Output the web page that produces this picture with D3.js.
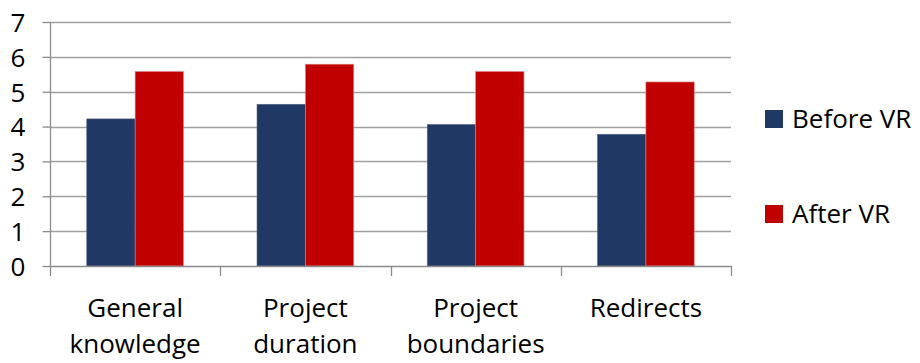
<!DOCTYPE html>
<html>
<head>
<meta charset="utf-8">
<script src="https://cdn.jsdelivr.net/npm/d3@7"></script>
<style>
  html, body { margin: 0; padding: 0; background: #fff; }
  svg { display: block; }
  text { font-family: "Open Sans", "Noto Sans", sans-serif; fill: #000; }
</style>
</head>
<body>
<svg id="chart" width="920" height="363"></svg>
<script>
// Survey scores before and after the VR session
const categories = [["General", "knowledge"], ["Project", "duration"], ["Project", "boundaries"], ["Redirects"]];
const seriesNames = ["Before VR", "After VR"];
const beforeVR = [4.22, 4.64, 4.06, 3.78];
const afterVR = [5.58, 5.79, 5.58, 5.28];
const yTicks = [0, 1, 2, 3, 4, 5, 6, 7];
const colors = ["#203864", "#C00000"];

const svg = d3.select("#chart");
const plot = { left: 50, right: 731, top: 22, bottom: 266 };
const fontSize = 26;

const x = d3.scaleBand()
  .domain(d3.range(categories.length))
  .range([plot.left, plot.right])
  .paddingInner(0).paddingOuter(0);

const y = d3.scaleLinear().domain([0, 7]).range([plot.bottom, plot.top]);

// horizontal gridlines
svg.append("g")
  .selectAll("line")
  .data(yTicks.slice(1))
  .join("line")
  .attr("x1", plot.left).attr("x2", plot.right)
  .attr("y1", d => Math.round(y(d)) + 0.5).attr("y2", d => Math.round(y(d)) + 0.5)
  .attr("stroke", "#a0a0a0").attr("stroke-width", 1.3);

// grouped bars: each bar is 1/3.5 of the category band
const barW = x.bandwidth() / 3.52;
const series = [beforeVR, afterVR];
series.forEach((vals, s) => {
  svg.append("g")
    .selectAll("rect")
    .data(vals)
    .join("rect")
    .attr("x", (d, i) => x(i) + x.bandwidth() / 2 - barW + s * barW)
    .attr("y", d => y(d))
    .attr("width", barW)
    .attr("height", d => y(0) - y(d))
    .attr("fill", colors[s])
    .attr("stroke", s === 0 ? "#5a6a88" : "#e08a8a")
    .attr("stroke-width", 0.6);
});

// y axis
const yAxis = d3.axisLeft(y).tickValues(yTicks).tickSize(8).tickPadding(20).tickFormat(d3.format("d"));
const gy = svg.append("g").attr("transform", `translate(${plot.left + 0.5},0)`).call(yAxis);
gy.select(".domain").attr("stroke", "#8c8c8c").attr("stroke-width", 1.3).attr("d", `M-0,${plot.top}V${plot.bottom}`);
gy.selectAll(".tick line").attr("stroke", "#8c8c8c").attr("stroke-width", 1.3);
gy.selectAll(".tick text").attr("font-size", fontSize).attr("text-anchor", "start").attr("x", -40).attr("dy", "0.36em")
  .style("font-family", '"Open Sans", sans-serif');

// x axis with tick marks at the band boundaries
const gx = svg.append("g");
gx.append("line")
  .attr("x1", plot.left).attr("x2", plot.right + 0.5)
  .attr("y1", plot.bottom + 0.5).attr("y2", plot.bottom + 0.5)
  .attr("stroke", "#8c8c8c").attr("stroke-width", 1.3);
const bounds = d3.range(categories.length + 1).map(i => i < categories.length ? x(i) : x(i - 1) + x.bandwidth());
gx.selectAll("line.tk")
  .data(bounds)
  .join("line")
  .attr("class", "tk")
  .attr("x1", d => Math.round(d) + 0.5).attr("x2", d => Math.round(d) + 0.5)
  .attr("y1", plot.bottom).attr("y2", plot.bottom + 10)
  .attr("stroke", "#8c8c8c").attr("stroke-width", 1.3);

gx.selectAll("text.cat")
  .data(categories)
  .join("text")
  .attr("class", "cat")
  .attr("x", (d, i) => x(i) + x.bandwidth() / 2)
  .attr("y", 317)
  .attr("text-anchor", "middle")
  .attr("font-size", fontSize)
  .selectAll("tspan")
  .data(d => d)
  .join("tspan")
  .attr("x", function () { return this.parentNode.getAttribute("x"); })
  .attr("dy", (d, i) => i === 0 ? 0 : 36)
  .text(d => d);

// legend
const legend = svg.append("g");
const legendY = [119, 214];
seriesNames.forEach((name, s) => {
  legend.append("rect")
    .attr("x", 765).attr("y", legendY[s] - 9)
    .attr("width", 18).attr("height", 18)
    .attr("fill", colors[s]);
  legend.append("text")
    .attr("x", 792).attr("y", legendY[s] + 9)
    .attr("font-size", fontSize)
    .text(name);
});
</script>
</body>
</html>
